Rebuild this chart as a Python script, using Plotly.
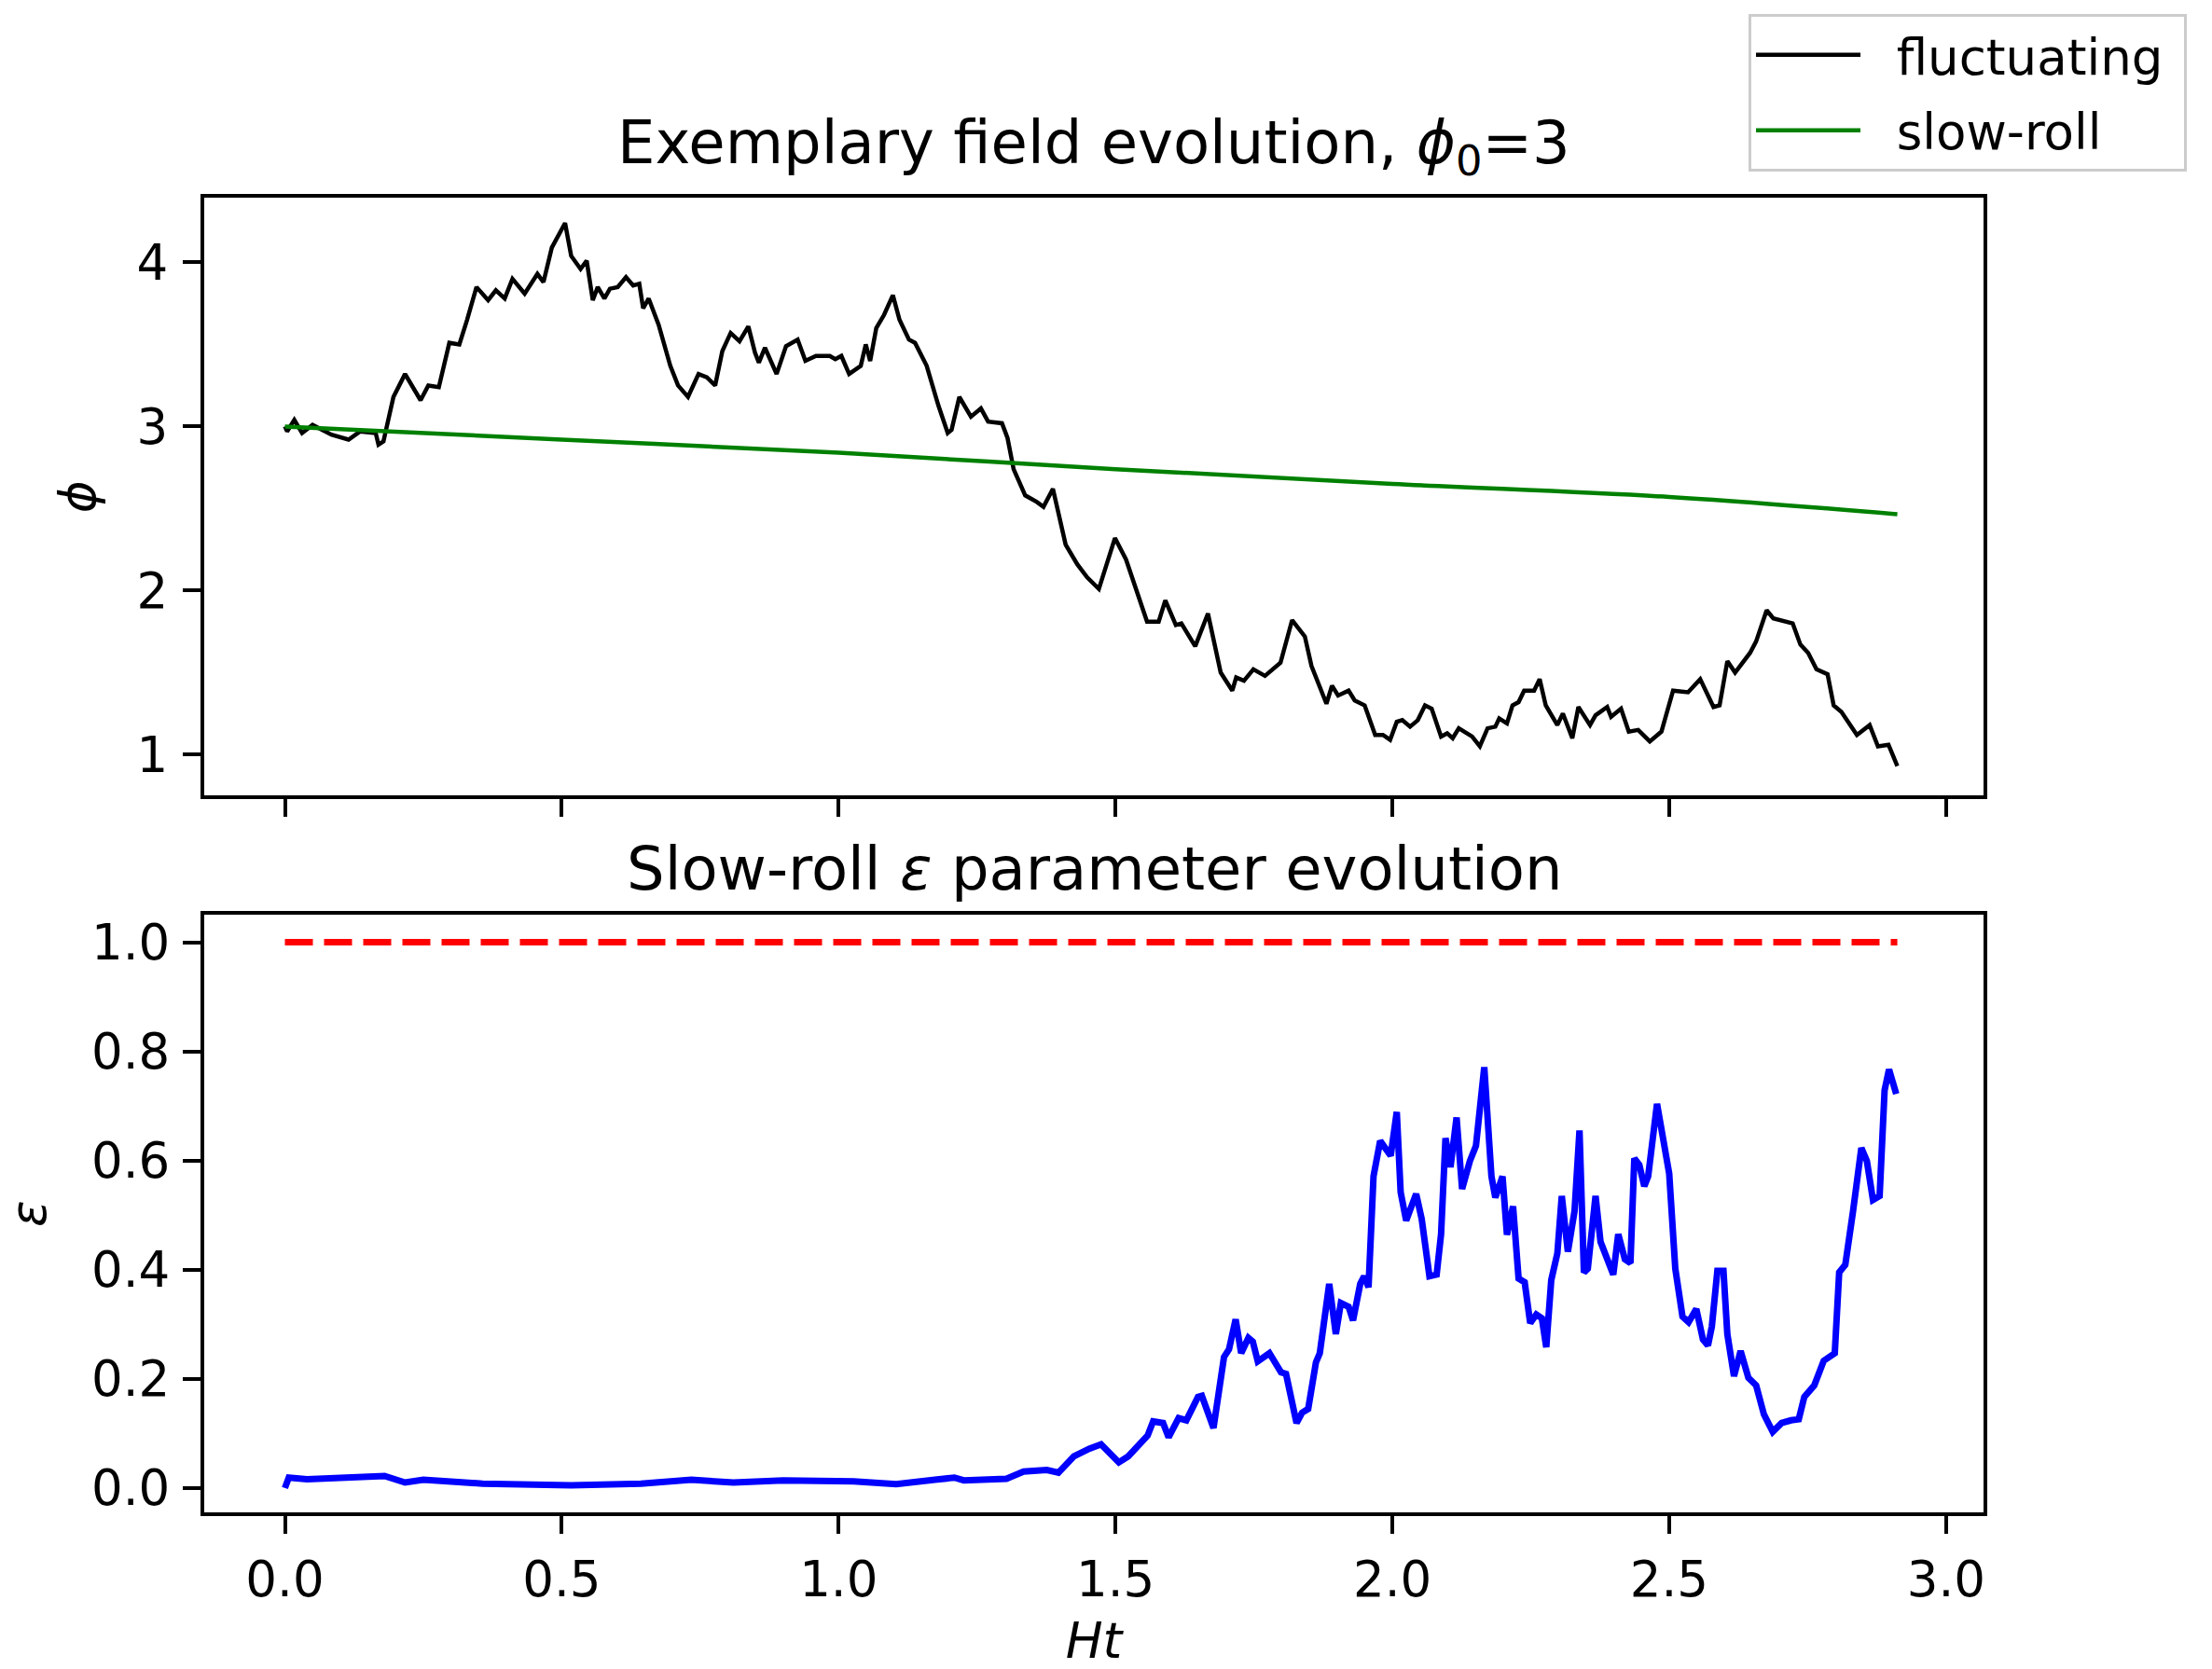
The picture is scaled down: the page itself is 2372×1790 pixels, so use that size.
import plotly.graph_objects as go

# ---------------- data ----------------
t_phi = [0.000, 0.004, 0.017, 0.031, 0.050, 0.084, 0.115, 0.136, 0.164, 0.169, 0.178, 0.196,
         0.217, 0.245, 0.259, 0.278, 0.297, 0.315, 0.329, 0.346, 0.367, 0.381, 0.397, 0.411,
         0.433, 0.456, 0.467, 0.482, 0.506, 0.517, 0.534, 0.545, 0.556, 0.565, 0.577, 0.587,
         0.601, 0.616, 0.629, 0.640, 0.647, 0.657, 0.675, 0.696, 0.710, 0.728, 0.747, 0.762,
         0.777, 0.790, 0.805, 0.821, 0.837, 0.849, 0.856, 0.867, 0.888, 0.905, 0.926, 0.940,
         0.959, 0.984, 0.994, 1.005, 1.019, 1.040, 1.049, 1.057, 1.068, 1.082, 1.098, 1.110,
         1.127, 1.138, 1.159, 1.180, 1.197, 1.204, 1.218, 1.239, 1.257, 1.270, 1.295, 1.305,
         1.316, 1.337, 1.358, 1.370, 1.387, 1.410, 1.431, 1.449, 1.470, 1.499, 1.519, 1.539,
         1.557, 1.578, 1.590, 1.609, 1.619, 1.644, 1.667, 1.690, 1.711, 1.718, 1.732, 1.749,
         1.770, 1.798, 1.819, 1.842, 1.854, 1.881, 1.891, 1.902, 1.921, 1.932, 1.950, 1.969,
         1.983, 1.996, 2.008, 2.018, 2.032, 2.046, 2.059, 2.071, 2.088, 2.099, 2.109, 2.120,
         2.144, 2.158, 2.172, 2.186, 2.193, 2.207, 2.217, 2.228, 2.238, 2.256, 2.266, 2.277,
         2.298, 2.308, 2.325, 2.336, 2.357, 2.367, 2.388, 2.395, 2.413, 2.427, 2.444, 2.465,
         2.486, 2.507, 2.534, 2.556, 2.580, 2.591, 2.605, 2.619, 2.646, 2.657, 2.676, 2.688,
         2.723, 2.737, 2.751, 2.766, 2.786, 2.797, 2.811, 2.839, 2.862, 2.877, 2.896, 2.912]
phi_fluct = [3.00, 2.97, 3.04, 2.96, 3.01, 2.95, 2.92, 2.97, 2.96, 2.89, 2.91, 3.18,
             3.32, 3.16, 3.25, 3.24, 3.51, 3.50, 3.65, 3.85, 3.77, 3.83, 3.78, 3.90,
             3.81, 3.93, 3.88, 4.09, 4.24, 4.04, 3.96, 4.01, 3.77, 3.85, 3.78, 3.84,
             3.85, 3.91, 3.86, 3.87, 3.72, 3.78, 3.62, 3.37, 3.25, 3.18, 3.32, 3.30,
             3.25, 3.46, 3.57, 3.52, 3.61, 3.45, 3.39, 3.48, 3.32, 3.49, 3.53, 3.40,
             3.43, 3.43, 3.41, 3.43, 3.32, 3.37, 3.50, 3.40, 3.60, 3.68, 3.80, 3.65,
             3.53, 3.51, 3.37, 3.13, 2.96, 2.98, 3.18, 3.06, 3.11, 3.03, 3.02, 2.93,
             2.74, 2.58, 2.54, 2.51, 2.62, 2.28, 2.16, 2.08, 2.01, 2.32, 2.19, 1.99,
             1.81, 1.81, 1.94, 1.79, 1.80, 1.66, 1.86, 1.50, 1.39, 1.47, 1.45, 1.52,
             1.48, 1.56, 1.82, 1.72, 1.54, 1.31, 1.42, 1.36, 1.39, 1.33, 1.30, 1.12,
             1.12, 1.09, 1.20, 1.21, 1.17, 1.21, 1.30, 1.28, 1.11, 1.13, 1.10, 1.16,
             1.11, 1.05, 1.16, 1.17, 1.22, 1.19, 1.30, 1.32, 1.39, 1.39, 1.46, 1.30,
             1.18, 1.25, 1.10, 1.29, 1.18, 1.24, 1.29, 1.23, 1.28, 1.14, 1.15, 1.08,
             1.14, 1.39, 1.38, 1.46, 1.29, 1.30, 1.57, 1.50, 1.62, 1.69, 1.88, 1.83,
             1.80, 1.67, 1.62, 1.52, 1.49, 1.30, 1.26, 1.12, 1.18, 1.05, 1.06, 0.93]

t_slowroll = [0.0, 0.5, 1.0, 1.5, 2.0, 2.5, 2.912]
phi_slowroll = [3.00, 2.92, 2.84, 2.74, 2.65, 2.57, 2.465]

t_eps = [0.000, 0.007, 0.040, 0.133, 0.180, 0.217, 0.250, 0.357, 0.517, 0.643, 0.734, 0.810,
         0.900, 1.027, 1.104, 1.174, 1.209, 1.226, 1.303, 1.334, 1.376, 1.397, 1.425, 1.453,
         1.474, 1.506, 1.523, 1.558, 1.568, 1.586, 1.596, 1.614, 1.628, 1.649, 1.656, 1.677,
         1.696, 1.705, 1.717, 1.727, 1.740, 1.748, 1.757, 1.778, 1.799, 1.808, 1.827, 1.837,
         1.848, 1.862, 1.869, 1.886, 1.898, 1.907, 1.921, 1.929, 1.942, 1.949, 1.957, 1.966,
         1.978, 1.997, 2.008, 2.015, 2.025, 2.043, 2.053, 2.067, 2.080, 2.088, 2.096, 2.105,
         2.116, 2.126, 2.140, 2.151, 2.166, 2.179, 2.186, 2.199, 2.207, 2.218, 2.228, 2.239,
         2.249, 2.260, 2.270, 2.278, 2.287, 2.298, 2.306, 2.317, 2.329, 2.338, 2.346, 2.353,
         2.367, 2.376, 2.388, 2.399, 2.408, 2.420, 2.430, 2.437, 2.446, 2.455, 2.462, 2.478,
         2.500, 2.511, 2.524, 2.535, 2.549, 2.561, 2.570, 2.577, 2.587, 2.598, 2.605, 2.617,
         2.629, 2.643, 2.657, 2.671, 2.687, 2.703, 2.720, 2.734, 2.744, 2.762, 2.779, 2.799,
         2.807, 2.818, 2.832, 2.847, 2.857, 2.868, 2.880, 2.889, 2.897, 2.910]
eps_vals = [0.000, 0.019, 0.016, 0.019, 0.022, 0.010, 0.015, 0.008, 0.005, 0.008, 0.015, 0.010,
            0.014, 0.012, 0.007, 0.015, 0.019, 0.014, 0.017, 0.030, 0.033, 0.028, 0.058, 0.072,
            0.080, 0.047, 0.058, 0.096, 0.122, 0.119, 0.093, 0.128, 0.124, 0.167, 0.169, 0.110,
            0.240, 0.254, 0.309, 0.247, 0.275, 0.268, 0.232, 0.247, 0.212, 0.209, 0.119, 0.138,
            0.145, 0.230, 0.247, 0.374, 0.282, 0.339, 0.332, 0.307, 0.374, 0.388, 0.368, 0.571,
            0.636, 0.609, 0.689, 0.542, 0.490, 0.539, 0.493, 0.388, 0.391, 0.465, 0.641, 0.588,
            0.679, 0.548, 0.599, 0.627, 0.771, 0.571, 0.532, 0.571, 0.464, 0.516, 0.384, 0.377,
            0.302, 0.318, 0.311, 0.258, 0.381, 0.430, 0.535, 0.433, 0.507, 0.655, 0.395, 0.402,
            0.535, 0.451, 0.416, 0.391, 0.465, 0.419, 0.412, 0.604, 0.592, 0.553, 0.571, 0.704,
            0.576, 0.402, 0.314, 0.304, 0.328, 0.272, 0.261, 0.296, 0.398, 0.398, 0.282, 0.205,
            0.251, 0.202, 0.188, 0.135, 0.103, 0.119, 0.124, 0.126, 0.167, 0.188, 0.233, 0.247,
            0.395, 0.409, 0.507, 0.623, 0.599, 0.528, 0.535, 0.729, 0.767, 0.722]

t_threshold = [0.0, 2.912]
eps_threshold = [1.0, 1.0]

x_ticks = [0.0, 0.5, 1.0, 1.5, 2.0, 2.5, 3.0]
x_ticktext = ["0.0", "0.5", "1.0", "1.5", "2.0", "2.5", "3.0"]
phi_ticks = [1, 2, 3, 4]
eps_ticks = [0.0, 0.2, 0.4, 0.6, 0.8, 1.0]
eps_ticktext = ["0.0", "0.2", "0.4", "0.6", "0.8", "1.0"]

# ---------------- figure ----------------
FONT = "DejaVu Sans"
TICK_PX = 53
TITLE_PX = 64
NB = "\u00a0\u00a0"  # gap between legend sample and its label
NE = "\u00a0"        # right padding inside the legend box

fig = go.Figure()
fig.add_trace(go.Scatter(x=t_phi, y=phi_fluct, mode="lines", name=NB + "fluctuating" + NE,
                         legendgroup="g1",
                         line=dict(color="#000000", width=4.5), xaxis="x", yaxis="y"))
fig.add_trace(go.Scatter(x=t_slowroll, y=phi_slowroll, mode="lines", name=NB + "slow-roll" + NE,
                         legendgroup="g2",
                         line=dict(color="#008000", width=4.5, shape="spline"), xaxis="x", yaxis="y"))
fig.add_trace(go.Scatter(x=t_eps, y=eps_vals, mode="lines", name="epsilon", showlegend=False,
                         line=dict(color="#0000ff", width=7), xaxis="x2", yaxis="y2"))
fig.add_trace(go.Scatter(x=t_threshold, y=eps_threshold, mode="lines", name="epsilon = 1",
                         showlegend=False,
                         line=dict(color="#ff0000", width=7, dash="30px,12px"), xaxis="x2", yaxis="y2"))

xdom = [219 / 2372, 2129 / 2372]
axis_common = dict(showgrid=False, zeroline=False, showline=True, linewidth=4, linecolor="#000000",
                   mirror=True, ticks="outside", ticklen=19, tickwidth=4, tickcolor="#000000",
                   tickfont=dict(family=FONT, size=TICK_PX, color="#000000"))

fig.update_layout(
    width=2372, height=1790, autosize=False,
    margin=dict(l=0, r=0, t=0, b=0, pad=0),
    paper_bgcolor="white", plot_bgcolor="white",
    font=dict(family=FONT, size=TICK_PX, color="#000000"),
    xaxis=dict(domain=xdom, anchor="y", range=[-0.146, 3.068], tickvals=x_ticks,
               showticklabels=False, **axis_common),
    yaxis=dict(domain=[1 - 859 / 1790, 1 - 213 / 1790], anchor="x", range=[0.750, 4.393],
               tickvals=phi_ticks, ticklabelstandoff=5,
               title=dict(text="<i>ϕ</i>", font=dict(family=FONT, size=TICK_PX), standoff=28),
               **axis_common),
    xaxis2=dict(domain=xdom, anchor="y2", range=[-0.146, 3.068], tickvals=x_ticks,
                ticktext=x_ticktext, ticklabelstandoff=3,
                title=dict(text="<i>Ht</i>", font=dict(family=FONT, size=TICK_PX), standoff=29),
                **axis_common),
    yaxis2=dict(domain=[1 - 1634 / 1790, 1 - 988 / 1790], anchor="x2", range=[-0.045, 1.05],
                tickvals=eps_ticks, ticktext=eps_ticktext, ticklabelstandoff=3,
                title=dict(text="<i>ε</i>", font=dict(family=FONT, size=TICK_PX), standoff=42),
                **axis_common),
    legend=dict(x=2347 / 2372, y=1 - 14 / 1790, xanchor="right", yanchor="top",
                bgcolor="white", bordercolor="#cccccc", borderwidth=3,
                font=dict(family=FONT, size=TICK_PX, color="#000000"),
                itemwidth=112, tracegroupgap=9),
    showlegend=True,
)

xc = (xdom[0] + xdom[1]) / 2
fig.add_annotation(text="Exemplary field evolution, <i>ϕ</i><sub>0</sub>=3", xref="paper", yref="paper",
                   x=xc, y=1 - 158 / 1790, xanchor="center", yanchor="middle", showarrow=False,
                   font=dict(family=FONT, size=TITLE_PX, color="#000000"))
fig.add_annotation(text="Slow-roll <i>ε</i> parameter evolution", xref="paper", yref="paper",
                   x=xc, y=1 - 938 / 1790, xanchor="center", yanchor="middle", showarrow=False,
                   font=dict(family=FONT, size=TITLE_PX, color="#000000"))

fig.write_html("out.html")
